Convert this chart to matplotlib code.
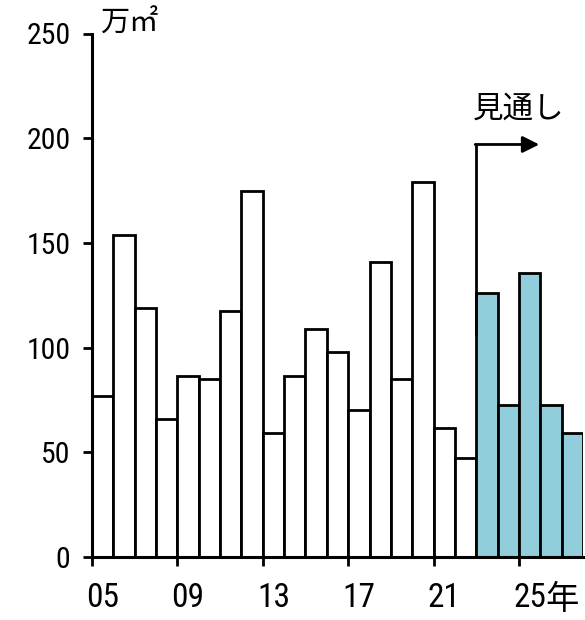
import matplotlib
matplotlib.use("Agg")
import matplotlib.pyplot as plt
from matplotlib.ticker import FixedLocator

DIGIT_FONT = ['Roboto Condensed', 'Archivo Narrow', 'Noto Sans CJK JP', 'DejaVu Sans']
CJK_FONT = ['Noto Sans CJK JP', 'DejaVu Sans']
plt.rcParams['font.family'] = DIGIT_FONT

# Annual supply (万㎡), actual through 2022 and outlook from 2023
years = list(range(2005, 2028))
values = [77, 154, 119, 66, 86.5, 85, 117.5, 175, 59, 86.5, 109, 98, 70, 141, 85, 179, 61.5, 47.5,
          126, 72.5, 135.5, 72.5, 59]
first_outlook_year = 2023
tick_years = [2005, 2009, 2013, 2017, 2021, 2025]
tick_labels = ['05', '09', '13', '17', '21', '25']
y_ticks = [0, 50, 100, 150, 200, 250]

fig = plt.figure(figsize=(5.85, 6.2), dpi=100)
ax = fig.add_axes([92 / 585, 1 - 557 / 620, (583 - 92) / 585, (557 - 33.5) / 620])

idx = list(range(len(years)))
colors = ['white' if y < first_outlook_year else '#92CDDC' for y in years]
ax.bar(idx, values, width=1.0, color=colors, edgecolor='black', linewidth=2.0, zorder=2)

ax.set_xlim(-0.5, len(years) - 0.5)
ax.set_ylim(0, 250)

for s in ['top', 'right']:
    ax.spines[s].set_visible(False)
for s in ['left', 'bottom']:
    ax.spines[s].set_linewidth(2.2)
    ax.spines[s].set_zorder(3)

ax.set_yticks(y_ticks)
ax.set_yticklabels([str(v) for v in y_ticks])
ax.tick_params(axis='y', direction='out', length=6.5, width=2.0, pad=9, labelsize=21.5)

# labels sit under bar centres, tick marks on the category boundaries
tick_pos = [years.index(y) for y in tick_years]
ax.set_xticks(tick_pos)
ax.set_xticklabels(tick_labels)
ax.tick_params(axis='x', which='major', length=0, pad=18, labelsize=24)
ax.xaxis.set_minor_locator(FixedLocator([p - 0.5 for p in tick_pos]))
ax.tick_params(axis='x', which='minor', direction='inout', length=13, width=2.0)

# year suffix and unit
last = tick_pos[-1]
ax.text(last + 0.75, -(582 - 557) / (557 - 33.5), '年', transform=ax.get_xaxis_transform(),
        ha='left', va='top', fontsize=24, family=CJK_FONT, clip_on=False)
fig.text(100 / 585, 1 - 32 / 620, '万㎡', ha='left', va='baseline', fontsize=21,
         family=CJK_FONT)

# outlook marker
split = years.index(first_outlook_year) - 0.5
ax.plot([split, split], [106, 197], color='black', lw=2.0, zorder=4, solid_capstyle='butt')
ax.annotate('', xy=(20.45, 197), xytext=(split - 0.05, 197),
            arrowprops=dict(arrowstyle='-|>,head_length=1.0,head_width=0.5', color='black', lw=2.0,
                            shrinkA=0, shrinkB=0), zorder=4)
ax.text(19.5, 214, '見通し', ha='center', va='center', fontsize=22, family=CJK_FONT)

fig.savefig('out.png', dpi=100)
